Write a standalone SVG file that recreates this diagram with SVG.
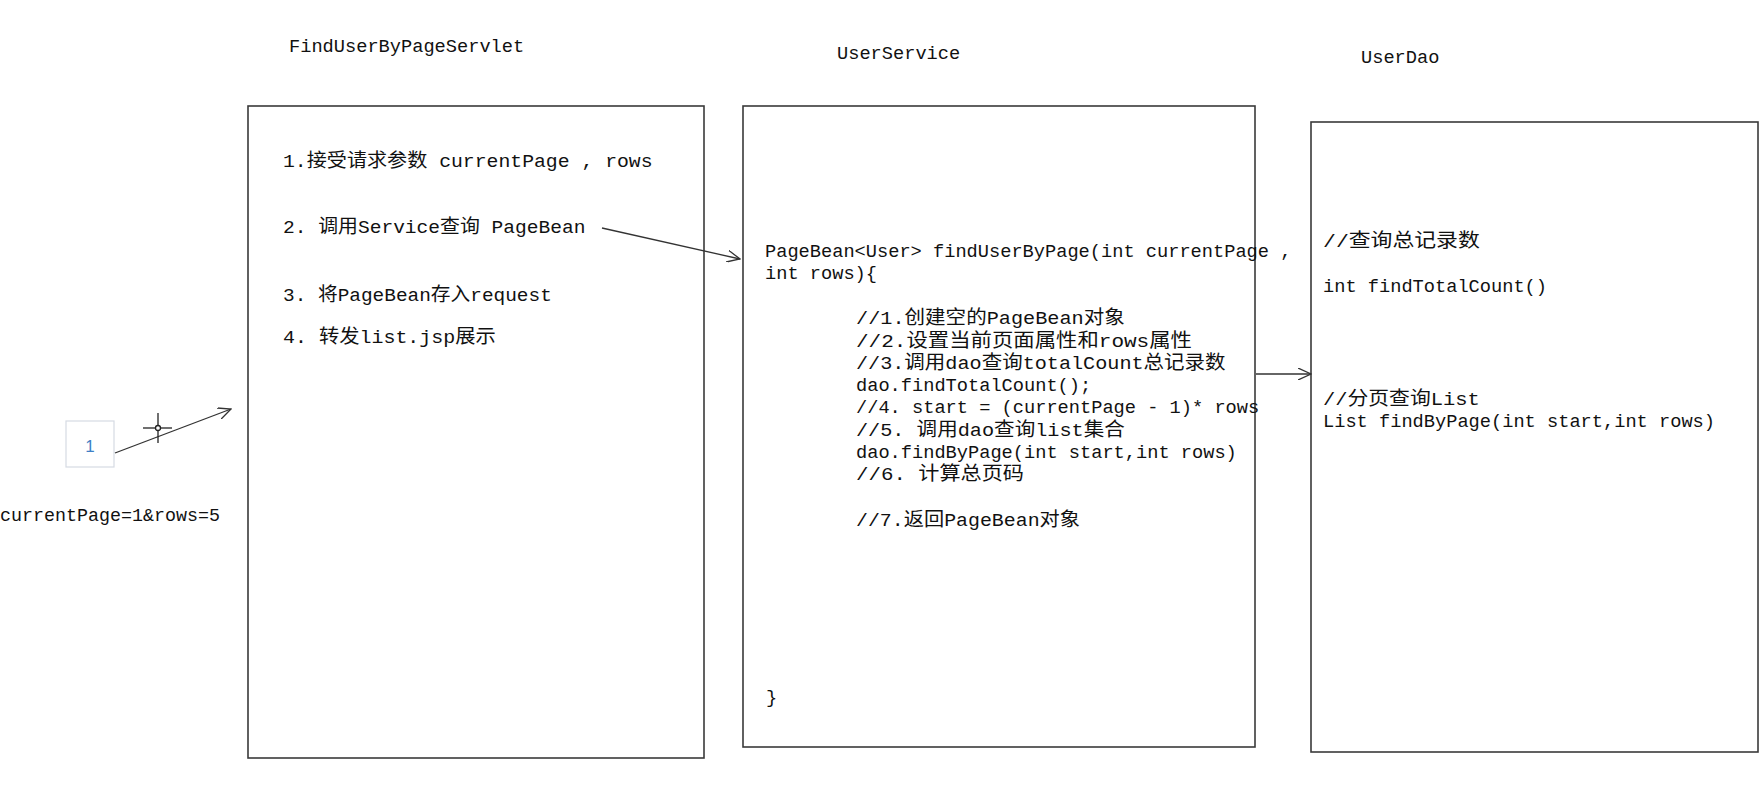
<svg xmlns="http://www.w3.org/2000/svg" width="1760" height="806" viewBox="0 0 1760 806">
<defs>
<style>
.t{font-family:"Liberation Mono","Noto Sans CJK SC",monospace;font-size:18.7px;fill:#111}
.c{font-family:"Noto Sans CJK SC",sans-serif;font-size:19px}
.box{fill:#fff;stroke:#3a3a3a;stroke-width:1.6}
.ln{fill:none;stroke:#333;stroke-width:1.3}
</style>
<marker id="ah" viewBox="0 0 14 12" refX="13" refY="6" markerWidth="14" markerHeight="12" markerUnits="userSpaceOnUse" orient="auto">
<path d="M0,0 L13,6 L0,12" fill="none" stroke="#333" stroke-width="1.3"/>
</marker>
</defs>
<rect width="1760" height="806" fill="#fff"/>

<g id="servlet">
<text class="t" x="289" y="52" textLength="235.2" lengthAdjust="spacingAndGlyphs">FindUserByPageServlet</text>
<rect class="box" x="248" y="106" width="456" height="652"/>
<text class="t" x="283" y="167" textLength="369.6" lengthAdjust="spacingAndGlyphs">1.<tspan class="c">接受请求参数</tspan> currentPage , rows</text>
<text class="t" x="283" y="233" textLength="302.4" lengthAdjust="spacingAndGlyphs">2. <tspan class="c">调用</tspan>Service<tspan class="c">查询</tspan> PageBean</text>
<text class="t" x="283" y="301" textLength="268.8" lengthAdjust="spacingAndGlyphs">3. <tspan class="c">将</tspan>PageBean<tspan class="c">存入</tspan>request</text>
<text class="t" x="283" y="343" textLength="212.8" lengthAdjust="spacingAndGlyphs">4. <tspan class="c">转发</tspan>list.jsp<tspan class="c">展示</tspan></text>
</g>

<g id="service">
<text class="t" x="837" y="59" textLength="123.2" lengthAdjust="spacingAndGlyphs">UserService</text>
<rect class="box" x="743" y="106" width="512" height="641"/>
<text class="t" x="765" y="257" textLength="526.4" lengthAdjust="spacingAndGlyphs">PageBean&lt;User&gt; findUserByPage(int currentPage ,</text>
<text class="t" x="765" y="279" textLength="112" lengthAdjust="spacingAndGlyphs">int rows){</text>
<text class="t" x="856" y="324" textLength="268.8" lengthAdjust="spacingAndGlyphs">//1.<tspan class="c">创建空的</tspan>PageBean<tspan class="c">对象</tspan></text>
<text class="t" x="856" y="347" textLength="336" lengthAdjust="spacingAndGlyphs">//2.<tspan class="c">设置当前页面属性和</tspan>rows<tspan class="c">属性</tspan></text>
<text class="t" x="856" y="369" textLength="369.6" lengthAdjust="spacingAndGlyphs">//3.<tspan class="c">调用</tspan>dao<tspan class="c">查询</tspan>totalCount<tspan class="c">总记录数</tspan></text>
<text class="t" x="856" y="391" textLength="235.2" lengthAdjust="spacingAndGlyphs">dao.findTotalCount();</text>
<text class="t" x="856" y="413" textLength="403.2" lengthAdjust="spacingAndGlyphs">//4. start = (currentPage - 1)* rows</text>
<text class="t" x="856" y="436" textLength="268.8" lengthAdjust="spacingAndGlyphs">//5. <tspan class="c">调用</tspan>dao<tspan class="c">查询</tspan>list<tspan class="c">集合</tspan></text>
<text class="t" x="856" y="458" textLength="380.8" lengthAdjust="spacingAndGlyphs">dao.findByPage(int start,int rows)</text>
<text class="t" x="856" y="480" textLength="168" lengthAdjust="spacingAndGlyphs">//6. <tspan class="c">计算总页码</tspan></text>
<text class="t" x="856" y="526" textLength="224" lengthAdjust="spacingAndGlyphs">//7.<tspan class="c">返回</tspan>PageBean<tspan class="c">对象</tspan></text>
<text class="t" x="766" y="703">}</text>
</g>

<g id="dao">
<text class="t" x="1361" y="63" textLength="78.4" lengthAdjust="spacingAndGlyphs">UserDao</text>
<rect class="box" x="1311" y="122" width="447" height="630"/>
<text class="t" x="1323" y="247" textLength="156.8" lengthAdjust="spacingAndGlyphs">//<tspan class="c">查询总记录数</tspan></text>
<text class="t" x="1323" y="292" textLength="224" lengthAdjust="spacingAndGlyphs">int findTotalCount()</text>
<text class="t" x="1323" y="405" textLength="156.8" lengthAdjust="spacingAndGlyphs">//<tspan class="c">分页查询</tspan>List</text>
<text class="t" x="1323" y="427" textLength="392" lengthAdjust="spacingAndGlyphs">List findByPage(int start,int rows)</text>
</g>

<g id="request">
<rect x="66" y="421" width="48" height="46" fill="#fff" stroke="#d6dbe3" stroke-width="1.2"/>
<text x="90" y="452" text-anchor="middle" font-family="Liberation Sans, Arial, sans-serif" font-size="17" fill="#3f7fc6">1</text>
<text class="t" x="0" y="521" textLength="220" lengthAdjust="spacingAndGlyphs">currentPage=1&amp;rows=5</text>
</g>

<g id="connectors">
<line class="ln" x1="115" y1="453" x2="231" y2="409" marker-end="url(#ah)"/>
<line class="ln" x1="602" y1="228" x2="740" y2="259" marker-end="url(#ah)"/>
<line class="ln" x1="1256" y1="374" x2="1311" y2="374" marker-end="url(#ah)"/>
</g>

<g id="cursor" stroke="#222" stroke-width="1.3" fill="none">
<line x1="158" y1="413" x2="158" y2="443"/>
<line x1="143" y1="428" x2="172" y2="428"/>
<circle cx="158" cy="428" r="2.5" fill="#fff"/>
</g>
</svg>
